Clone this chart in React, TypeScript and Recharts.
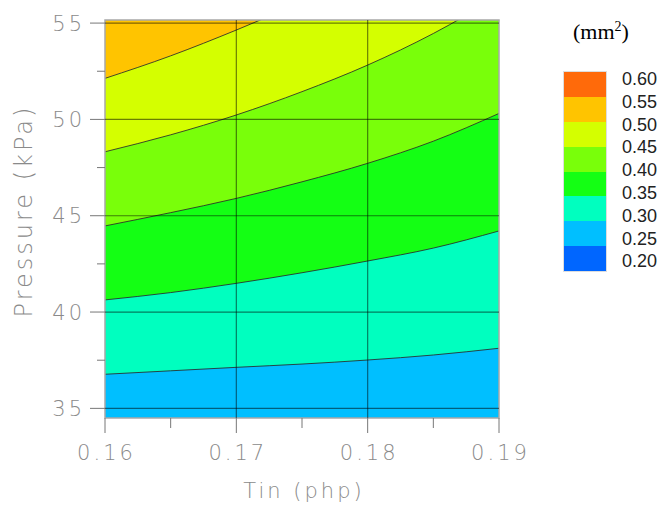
import React from 'react';
import {
    ComposedChart,
    Area,
    XAxis,
    YAxis,
    CartesianGrid,
    ReferenceLine,
    ReferenceArea,
} from 'recharts';

// Tin (php) sample positions
const tin = [0.16, 0.165, 0.17, 0.175, 0.18, 0.185, 0.19];

// pressure (kPa) where each contour level sits
const level050 = [52.13, 53.3, 54.64, 56.1, 57.7, 59.4, 61.2];
const level045 = [48.32, 49.2, 50.23, 51.44, 52.82, 54.46, 56.4];
const level040 = [44.47, 45.16, 45.9, 46.76, 47.72, 48.87, 50.31];
const level035 = [40.63, 41.01, 41.49, 42.04, 42.65, 43.32, 44.21];
const level030 = [36.77, 36.95, 37.13, 37.3, 37.51, 37.77, 38.12];

const xTicks = [0.16, 0.165, 0.17, 0.175, 0.18, 0.185, 0.19];
const yTicks = [35, 37.5, 40, 42.5, 45, 47.5, 50, 52.5, 55];
const yDomain = [34.5, 55.16];

// legend, top to bottom
const legendLabels = ['0.60', '0.55', '0.50', '0.45', '0.40', '0.35', '0.30', '0.25', '0.20'];
const legendColors = ['#FF6A0A', '#FFC400', '#D4FF00', '#79FF0A', '#14FF14', '#00FFBF', '#00BFFF', '#0066FF'];

const data = tin.map((t, i) => ({
    tin: t,
    l050: level050[i],
    l045: level045[i],
    l040: level040[i],
    l035: level035[i],
    l030: level030[i],
}));

// each contour fills downward with the band below it
const contours = [
    { key: 'l050', fill: legendColors[2] },
    { key: 'l045', fill: legendColors[3] },
    { key: 'l040', fill: legendColors[4] },
    { key: 'l035', fill: legendColors[5] },
    { key: 'l030', fill: legendColors[6] },
];

const FONT = '"DejaVu Sans", Verdana, sans-serif';
const GRAY = '#8a8a8a';

const YTick = (props: any) => {
    const { x, y, payload } = props;
    const major = payload.value % 5 === 0;
    return (
        <g>
            <line x1={x - (major ? 15 : 8)} x2={x} y1={y} y2={y} stroke="#777" />
            {major && (
                <text x={x - 20} y={y + 7.5} textAnchor="end" fill={GRAY} fontSize={21}
                    fontFamily={FONT} fontWeight={300} letterSpacing={3}>
                    {payload.value}
                </text>
            )}
        </g>
    );
};

const XTick = (props: any) => {
    const { x, y, payload } = props;
    const major = Math.round(payload.value * 1000) % 10 === 0;
    return (
        <g>
            <line x1={x} x2={x} y1={y} y2={y + (major ? 15 : 10)} stroke="#777" />
            {major && (
                <text x={x + 1.5} y={y + 42} textAnchor="middle" fill={GRAY} fontSize={21}
                    fontFamily={FONT} fontWeight={300} letterSpacing={3}>
                    {payload.value.toFixed(2)}
                </text>
            )}
        </g>
    );
};

export default function App() {
    return (
        <div style={{ position: 'absolute', left: 0, top: 0, width: 661, height: 512, background: '#fff' }}>
            <ComposedChart
                width={661}
                height={512}
                data={data}
                margin={{ top: 20, right: 162, bottom: 34, left: 20 }}
            >
                <CartesianGrid horizontal={false} vertical={false} fill={legendColors[1]} fillOpacity={1} />
                <XAxis
                    dataKey="tin"
                    type="number"
                    domain={[0.16, 0.19]}
                    ticks={xTicks}
                    interval={0}
                    height={60}
                    axisLine={false}
                    tickLine={false}
                    tickSize={0}
                    tickMargin={0}
                    tick={<XTick />}
                    label={{
                        content: ({ viewBox }: any) => (
                            <text x={viewBox.x + viewBox.width / 2 + 2} y={498} textAnchor="middle"
                                fill={GRAY} fontSize={21} fontFamily={FONT} fontWeight={300} letterSpacing={3}>
                                Tin (php)
                            </text>
                        ),
                    }}
                />
                <YAxis
                    type="number"
                    domain={yDomain}
                    allowDataOverflow
                    ticks={yTicks}
                    interval={0}
                    width={85}
                    axisLine={false}
                    tickLine={false}
                    tickSize={0}
                    tickMargin={0}
                    tick={<YTick />}
                    label={{
                        content: ({ viewBox }: any) => {
                            const cx = 24;
                            const cy = viewBox.y + viewBox.height / 2 - 8;
                            return (
                                <text x={cx} y={cy} transform={`rotate(-90 ${cx} ${cy})`} textAnchor="middle"
                                    dominantBaseline="central" fill={GRAY} fontSize={24} fontFamily={FONT}
                                    fontWeight={300} letterSpacing={3}>
                                    Pressure (kPa)
                                </text>
                            );
                        },
                    }}
                />
                {contours.map((c) => (
                    <Area
                        key={c.key}
                        type="monotone"
                        dataKey={c.key}
                        stroke="#2a2a2a"
                        strokeWidth={1}
                        strokeOpacity={0.85}
                        fill={c.fill}
                        fillOpacity={1}
                        dot={false}
                        activeDot={false}
                        isAnimationActive={false}
                    />
                ))}
                {[0.17, 0.18].map((v) => (
                    <ReferenceLine key={'x' + v} x={v} stroke="#000" strokeOpacity={0.5} strokeWidth={1.2} />
                ))}
                {[35, 40, 45, 50, 55].map((v) => (
                    <ReferenceLine key={'y' + v} y={v} stroke="#000" strokeOpacity={0.5} strokeWidth={1.2} />
                ))}
                <ReferenceArea x1={0.16} x2={0.19} y1={yDomain[0]} y2={yDomain[1]}
                    fill="none" stroke="#a8a8a8" strokeWidth={1.5} />
            </ComposedChart>

            <div style={{
                position: 'absolute', left: 573, top: 19, fontFamily: '"Liberation Serif", serif',
                fontSize: 22, lineHeight: '26px', color: '#000',
            }}>
                (mm<sup style={{ fontSize: 14, lineHeight: 0 }}>2</sup>)
            </div>
            <div style={{ position: 'absolute', left: 563, top: 71, width: 44, border: '1px solid #ddd', boxSizing: 'border-box' }}>
                {legendColors.map((c) => (
                    <div key={c} style={{ height: 24.9, background: c }} />
                ))}
            </div>
            {legendLabels.map((l, i) => (
                <div key={l} style={{
                    position: 'absolute', left: 622, top: 79 + i * 22.8 - 11, height: 22, lineHeight: '22px',
                    fontFamily: '"Liberation Sans", Arial, sans-serif', fontSize: 18, color: '#222',
                }}>
                    {l}
                </div>
            ))}
        </div>
    );
}
